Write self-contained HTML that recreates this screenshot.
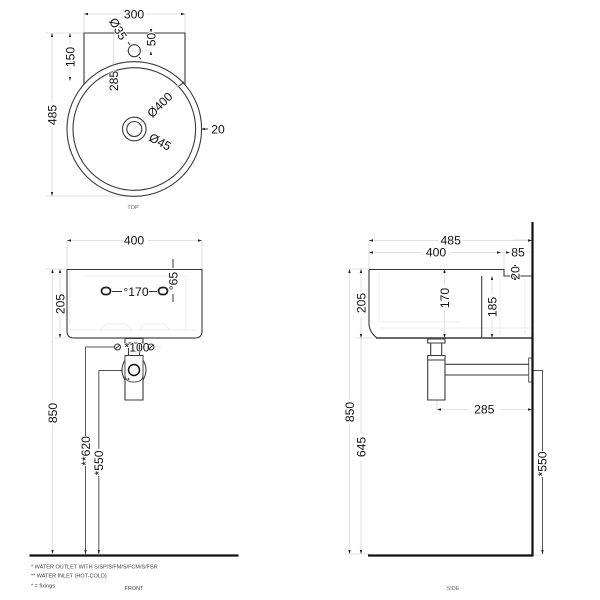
<!DOCTYPE html>
<html><head><meta charset="utf-8"><style>
html,body{margin:0;padding:0;background:#fff}
svg{display:block}
text{font-family:"Liberation Sans",sans-serif;fill:#111;text-anchor:middle}
.d{font-size:12.2px;paint-order:stroke;stroke:#fff;stroke-width:1.600px}
.s{font-size:5.5px;fill:#666}
.n{font-size:5.5px;fill:#444;text-anchor:start}
.e{stroke:#d8d8d8;stroke-width:.8;fill:none}
.l{stroke:#3a3a3a;stroke-width:1.100;fill:none}
.m{stroke:#333;stroke-width:1;fill:none}
.f{stroke:#eee;stroke-width:1;fill:none}
.a{fill:#222;stroke:none}
</style></head><body>
<svg width="600" height="600" viewBox="0 0 600 600" xmlns="http://www.w3.org/2000/svg">
<!-- TOP -->
<g>
<path class="e" d="M84 14V33M185 14V33M84 14H122M146 14H185M45 33H84M45 196H134M52 33V103M52 127V196M70 33V45M70 69V81M151 33V34M151 51H125M113.500 33V68M113.500 93V129H134M134 129L178 85"/>
<path class="a" d="M84 14l4-1.200v2.400zM185 14l-4-1.200v2.400zM52 33l-1.200 4h2.400zM52 196l-1.200-4h2.400zM70 33l-1.200 4h2.400zM70 81l-1.200-4h2.400zM151 33l-1.200-4h2.400zM151 51l-1.200 4h2.400zM113.500 129l-1.200-4h2.400zM195 129l-4-1.200v2.400zM201 129l4-1.200v2.400z"/>
<path class="m" d="M203 129H208"/>
<path class="l" d="M84 86V33H185V86"/>
<circle cx="134.300" cy="50.700" r="6" class="l"/>
<path class="m" d="M128 42l2 3M139 57l2 2"/>
<circle cx="134.300" cy="129" r="67.300" fill="#fff" stroke="#3a3a3a" stroke-width="1.100"/>
<circle cx="134.300" cy="129" r="61.300" class="l"/>
<path class="e" d="M134.300 129L178 85"/>
<path class="m" d="M179.300 86L184 81.700"/>
<circle cx="134.300" cy="129" r="11.800" class="l" stroke-width="1.200"/>
<circle cx="134.300" cy="129" r="7.500" class="l" stroke-width="1.200"/>
<text class="d" x="134" y="18.300">300</text>
<text class="d" transform="translate(56.500 115) rotate(-90)">485</text>
<text class="d" transform="translate(74.500 57) rotate(-90)">150</text>
<text class="d" transform="translate(155.500 39.500) rotate(-90)">50</text>
<text class="d" transform="translate(118 29) rotate(60) translate(0 4)">Ø35</text>
<text class="d" transform="translate(118 81) rotate(-90)">285</text>
<text class="d" transform="translate(160 105) rotate(-45) translate(0 4)">Ø400</text>
<text class="d" transform="translate(160 142) rotate(28) translate(0 4)">Ø45</text>
<text class="d" x="218" y="133.500">20</text>
<text class="s" x="133" y="209">TOP</text>
</g>
<!-- FRONT -->
<g>
<path class="e" d="M67 240V269M202 240V269M67 240.500H123M148 240.500H202M45 269H67M55 338H67M52.500 269V400M52.500 425V554M60 269V293M60 316V338"/>
<path class="m" d="M173 259V268M173 294V302"/>
<path class="a" d="M67 240.500l4-1.200v2.400zM202 240.500l-4-1.200v2.400zM52.500 269l-1.200 4h2.400zM52.500 554l-1.200-4h2.400zM60 269l-1.200 4h2.400zM60 338l-1.200-4h2.400z"/>
<path class="f" d="M70 271V325M84 276H186V330M70 330H197M100 330l6-6h20l6 6M140 330l4-6h20l6 6"/>
<path class="l" d="M67 269.500H202V331Q202 338 195 338H74Q67 338 67 331Z"/>
<path d="M74 338H195" stroke="#666" stroke-width="1.500"/>
<rect x="101.500" y="287.500" width="9" height="7" rx="3.500" fill="none" stroke="#222" stroke-width="1.800"/>
<rect x="158.500" y="287.500" width="9" height="7" rx="3.500" fill="none" stroke="#222" stroke-width="1.800"/>
<path class="m" d="M112 291.500H122M146 291.500H157"/>
<text class="d" x="136" y="296">°170</text>
<text class="d" transform="translate(177.500 281) rotate(-90)">°65</text>
<text class="d" x="134" y="244.700">400</text>
<text class="d" transform="translate(64.500 304) rotate(-90)">205</text>
<text class="d" transform="translate(57 413) rotate(-90)">850</text>
<text class="d" transform="translate(90 451) rotate(-90)">**620</text>
<text class="d" transform="translate(103 463) rotate(-90)">*550</text>
<path class="l" d="M125 338.500H143V343H125ZM128.500 343V355M139.500 343V355M125 355.500H143V400H125Z" stroke="#555"/>
<text class="d" x="137" y="351.500">*100</text>
<circle cx="117.500" cy="347" r="3" class="m"/><circle cx="151" cy="347" r="3" class="m"/>
<path class="m" d="M115 349l5-4M149 349l4-4"/>
<path d="M85.500 347H114M98.800 370.500H122M85.500 347V436M85.500 466V554M98.800 370.500V449M98.800 476V554" stroke="#555" stroke-width="1" fill="none"/>
<path d="M155 347H161" class="e"/>
<path class="a" d="M85.500 554l-1.200-4h2.400zM98.800 554l-1.200-4h2.400z"/>
<path d="M125 360Q119 370 125 380M143 360Q149 370 143 380" class="m" stroke-width=".8"/>
<path d="M125 356V375Q125 382 134 382Q143 382 143 375V356" fill="#fff" stroke="#555"/>
<circle cx="134" cy="370" r="5.500" fill="#fff" stroke="#111" stroke-width="1.500"/>
<circle cx="128.500" cy="379" r=".9" fill="#222"/>
<path d="M29.500 555.500H238.500" stroke="#111" stroke-width="2.200"/>
<text class="n" x="31" y="568.500">*  WATER OUTLET WITH S/SP/S/FM/S/FCM/S/FBR</text>
<text class="n" x="31" y="577.500">** WATER INLET  (HOT-COLD)</text>
<text class="n" x="31" y="587.500">* = fixings</text>
<text class="s" x="134" y="590" style="fill:#444">FRONT</text>
</g>
<!-- SIDE -->
<g>
<path class="e" d="M369 240V269M532 240H513M369 240.500H439M462 240.500H532M369 252.500H422M450 252.500H505M504 252V270M510 252H512M526 252H532M345 269H369M356 338H376M349.500 269V399M349.500 424V554M361 269V292M361 316V338M361 338V434M361 460V554M345 554H369M444.500 269V285M444.500 310V338M492 276V295M492 320V338M437 409.500H469M500 409.500H532M437 400V409.500M516 276H532M533 555H543"/>
<path class="a" d="M369 240.500l4-1.200v2.400zM532 240.500l-4-1.200v2.400zM369 252.500l4-1.200v2.400zM501 252.500l-4-1.200v2.400zM510 252.500l-4-1.200v2.400zM349.500 269l-1.200 4h2.400zM349.500 554l-1.200-4h2.400zM361 269l-1.200 4h2.400zM361 338l-1.200-4h2.400zM361 554l-1.200-4h2.400zM444.500 269l-1.200 4h2.400zM444.500 338l-1.200-4h2.400zM492 276l-1.200 4h2.400zM492 338l-1.200-4h2.400zM437 409.500l4-1.200v2.400zM532 409.500l-4-1.200v2.400zM515 269l-1.200-4h2.400zM515 276l-1.200 4h2.400z"/>
<path class="f" d="M379 272V322H460M379 328H530M500 278V335M525 278V335"/>
<path class="l" d="M369 269.500H504V276H532M481.700 276V338M369 269.500V325Q370 333 377 338"/>
<path d="M376 338H532" stroke="#555" stroke-width="1.800"/>
<path class="l" d="M427.700 339H445V343H427.700ZM430.700 343V355M441.700 343V355M427.700 355.500H445V400H427.700ZM427.700 360H445M445 364.300H528.700M445 375H528.700" stroke="#555"/>
<rect x="528.700" y="358" width="3.300" height="24" fill="none" stroke="#555"/>
<path d="M533 370.500H542.500V451M542.500 477V554" stroke="#555" fill="none"/>
<path class="a" d="M542.500 554l-1.200-4h2.400z"/>
<path d="M532.500 222V556" stroke="#111" stroke-width="2.200"/>
<path d="M368 555.500H533.500" stroke="#111" stroke-width="2.200"/>
<text class="d" x="450.700" y="244.700">485</text>
<text class="d" x="436" y="256.700">400</text>
<text class="d" x="518" y="256.500">85</text>
<text class="d" transform="translate(519.500 273) rotate(-90)">20</text>
<text class="d" transform="translate(449 298) rotate(-90)">170</text>
<text class="d" transform="translate(496.500 307) rotate(-90)">185</text>
<text class="d" transform="translate(365.500 303) rotate(-90)">205</text>
<text class="d" transform="translate(354 412) rotate(-90)">850</text>
<text class="d" transform="translate(365.500 447) rotate(-90)">645</text>
<text class="d" transform="translate(546.500 464) rotate(-90)">*550</text>
<text class="d" x="484.300" y="413.700">285</text>
<text class="s" x="453" y="590">SIDE</text>
</g>
</svg>
</body></html>
